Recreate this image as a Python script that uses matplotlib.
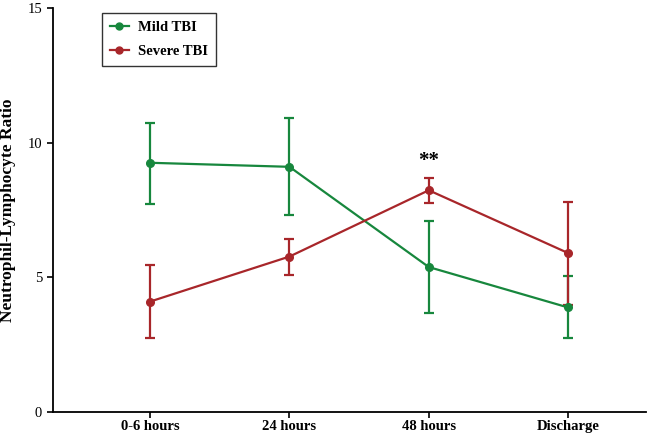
import matplotlib
matplotlib.use('Agg')
import matplotlib.pyplot as plt
from matplotlib.lines import Line2D
import numpy as np

plt.rcParams['font.family'] = ['Liberation Serif', 'DejaVu Serif']

timepoints = ['0-6 hours', '24 hours', '48 hours', 'Discharge']

mild_mean = [9.25, 9.1, 5.38, 3.88]
mild_low = [7.72, 7.32, 3.68, 2.74]
mild_high = [10.72, 10.92, 7.08, 5.04]

severe_mean = [4.1, 5.77, 8.23, 5.9]
severe_low = [2.76, 5.1, 7.77, 3.98]
severe_high = [5.44, 6.41, 8.68, 7.78]

GREEN = '#17873d'
RED = '#a8262a'

fig = plt.figure(figsize=(6.5, 4.36), dpi=100)
ax = fig.add_axes([0.081, 0.055, 0.913, 0.927])

x = np.arange(len(timepoints))


def draw(mean, low, high, color):
    mean = np.array(mean)
    yerr = [mean - np.array(low), np.array(high) - mean]
    ax.errorbar(x, mean, yerr=yerr, color=color, marker='o', ms=5.5,
                lw=1.6, elinewidth=1.6, capsize=3.5, capthick=1.6)


draw(mild_mean, mild_low, mild_high, GREEN)
draw(severe_mean, severe_low, severe_high, RED)

ax.text(2, 8.95, '**', ha='center', va='bottom', fontsize=15, fontweight='bold')

ax.set_xlim(-0.7, 3.56)
ax.set_ylim(0, 15)
ax.set_yticks([0, 5, 10, 15])
ax.set_xticks(x)
ax.set_xticklabels(timepoints, fontweight='bold', fontsize=10.5)
ax.tick_params(axis='y', labelsize=10.5, direction='out', length=4, width=1.2)
ax.tick_params(axis='x', direction='out', length=4, width=1.2, pad=2)
for side in ['top', 'right']:
    ax.spines[side].set_visible(False)
for side in ['left', 'bottom']:
    ax.spines[side].set_linewidth(1.3)

ax.set_ylabel('Neutrophil-Lymphocyte Ratio', fontweight='bold', fontsize=12.5, labelpad=8)

handles = [
    Line2D([], [], color=GREEN, marker='o', ms=5, lw=1.6),
    Line2D([], [], color=RED, marker='o', ms=5, lw=1.6),
]
leg = ax.legend(handles, ['Mild TBI', 'Severe TBI'], loc='upper left',
                bbox_to_anchor=(0.083, 0.988), borderaxespad=0, fancybox=False,
                edgecolor='black', prop={'weight': 'bold', 'size': 10.5},
                handlelength=1.3, handletextpad=0.6, borderpad=0.55, labelspacing=0.75)
leg.get_frame().set_linewidth(1.0)

fig.savefig('out.png', dpi=100)
